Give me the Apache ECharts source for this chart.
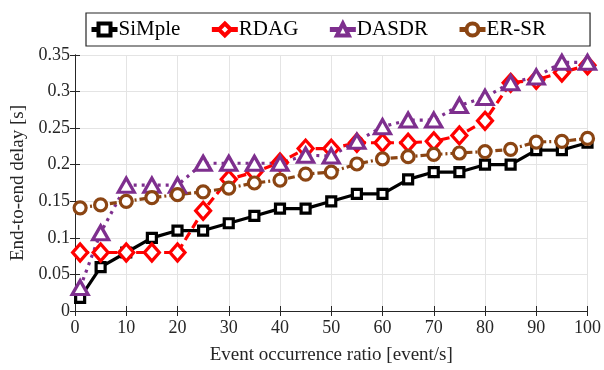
<!DOCTYPE html>
<html><head><meta charset="utf-8">
<script src="https://cdn.jsdelivr.net/npm/echarts@6/dist/echarts.min.js"></script>
<style>html,body{margin:0;padding:0;background:#fff;}#c{width:604px;height:370px;}</style>
</head><body><div id="c"></div>
<script>
const xValues = [1,5,10,15,20,25,30,35,40,45,50,55,60,65,70,75,80,85,90,95,100];
const simple = [0.018,0.06,0.08,0.10,0.11,0.11,0.12,0.13,0.14,0.14,0.15,0.16,0.16,0.18,0.19,0.19,0.20,0.20,0.22,0.22,0.23];
const rdag   = [0.08,0.08,0.08,0.08,0.08,0.137,0.18,0.19,0.203,0.222,0.222,0.23,0.23,0.23,0.232,0.24,0.26,0.312,0.316,0.326,0.336];
const dasdr  = [0.032,0.107,0.172,0.172,0.172,0.202,0.202,0.202,0.202,0.213,0.212,0.232,0.252,0.261,0.261,0.281,0.292,0.312,0.32,0.34,0.34];
const ersr   = [0.141,0.145,0.15,0.155,0.159,0.163,0.168,0.175,0.179,0.187,0.19,0.201,0.208,0.211,0.214,0.216,0.218,0.221,0.231,0.232,0.236];
const seriesNames = ['SiMple','RDAG','DASDR','ER-SR'];

const FONT = 'Liberation Serif';
const axisCol = '#262626';
const pair = a => a.map((v,i)=>[xValues[i], v]);

function mk(name, data, color, symbol, size, dash) {
  return {
    name, type:'line', data: pair(data), symbol, symbolSize: size,
    showSymbol: true,
    itemStyle: {color:'#ffffff', borderColor: color, borderWidth: 3.2},
    lineStyle: {color, width: 3.2, type: dash},
    emphasis: {disabled:true}, animation:false
  };
}

const chart = echarts.init(document.getElementById('c'), null, {renderer:'canvas'});
chart.setOption({
  animation:false,
  backgroundColor:'#fff',
  textStyle:{fontFamily:FONT},
  grid:{left:75, right:16, top:55, bottom:52, containLabel:false},
  legend:{
    left:86, top:13,
    padding:[6,44,6,3],
    borderColor:'#262626', borderWidth:1.2,
    itemGap:29, itemWidth:26, itemHeight:15,
    lineStyle:{type:'solid', width:5},
    itemStyle:{borderWidth:4},
    textStyle:{fontFamily:FONT, fontSize:21, color:'#000', padding:[0,0,0,-4]},
    data: seriesNames
  },
  xAxis:[{
    type:'value', min:0, max:100, interval:10,
    name:'Event occurrence ratio [event/s]', nameLocation:'middle', nameGap:35,
    nameTextStyle:{fontFamily:FONT, fontSize:19, color:'#262626'},
    axisLine:{show:true, lineStyle:{color:axisCol, width:1}},
    axisTick:{show:true, inside:true, length:5, lineStyle:{color:axisCol}},
    axisLabel:{fontFamily:FONT, fontSize:18, color:'#262626', margin:8},
    splitLine:{show:true, lineStyle:{color:'#e4e4e4', width:1}}
  },{
    type:'value', position:'top', min:0, max:100, interval:10,
    axisLine:{show:true, lineStyle:{color:axisCol, width:1}},
    axisTick:{show:true, inside:true, length:5, lineStyle:{color:axisCol}},
    axisLabel:{show:false}, splitLine:{show:false}
  }],
  yAxis:[{
    type:'value', min:0, max:0.35, interval:0.05,
    name:'End-to-end delay [s]', nameLocation:'middle', nameGap:45,
    nameTextStyle:{fontFamily:FONT, fontSize:19, color:'#262626'},
    axisLine:{show:true, lineStyle:{color:axisCol, width:1}},
    axisTick:{show:true, inside:true, length:5, lineStyle:{color:axisCol}},
    axisLabel:{fontFamily:FONT, fontSize:18, color:'#262626', margin:5,
      formatter: v => String(Math.round(v*100)/100)},
    splitLine:{show:true, lineStyle:{color:'#e4e4e4', width:1}}
  },{
    type:'value', position:'right', min:0, max:0.35, interval:0.05,
    axisLine:{show:true, lineStyle:{color:axisCol, width:1}},
    axisTick:{show:true, inside:true, length:5, lineStyle:{color:axisCol}},
    axisLabel:{show:false}, splitLine:{show:false}
  }],
  series:[
    mk('SiMple', simple, '#000000', 'rect', 9, 'solid'),
    mk('RDAG', rdag, '#ff0000', 'diamond', [15,17], [9,5]),
    mk('DASDR', dasdr, '#7e2f8e', 'triangle', [16,14], [3,5]),
    mk('ER-SR', ersr, '#8b4513', 'circle', 12, [7,3,2,3])
  ]
});
</script></body></html>
